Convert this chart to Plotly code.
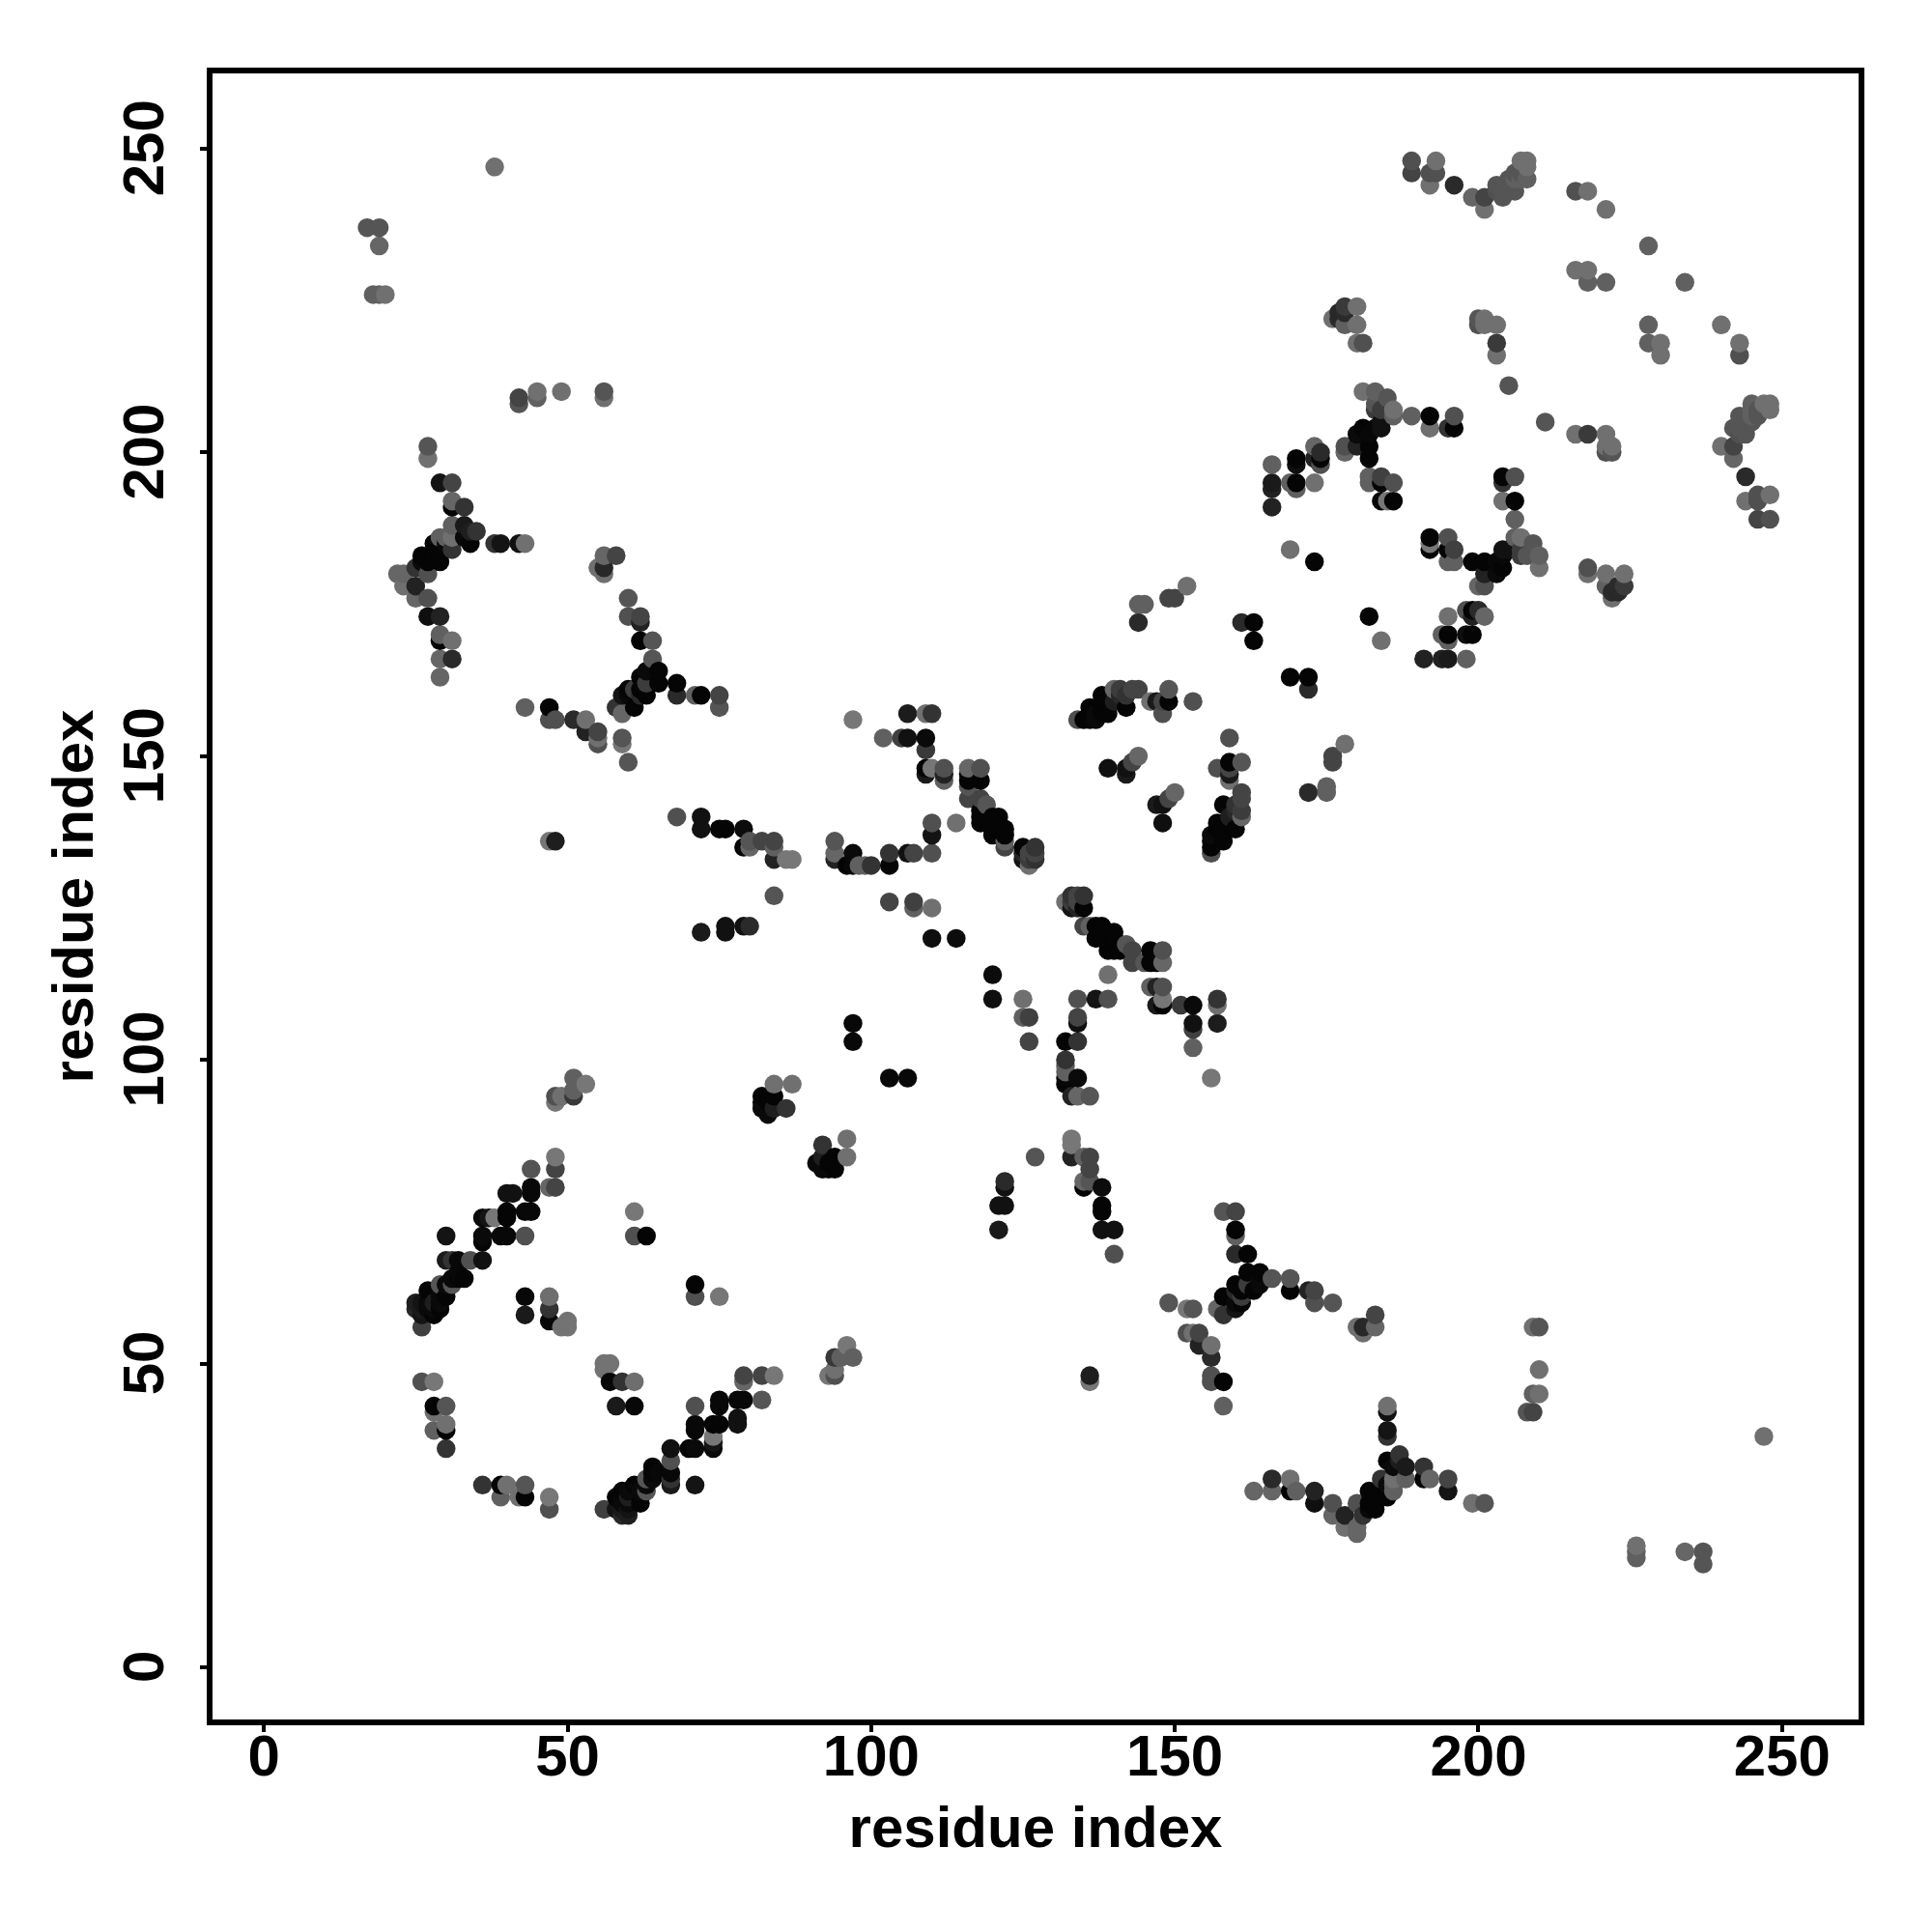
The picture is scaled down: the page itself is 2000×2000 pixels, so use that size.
import plotly.graph_objects as go

# contact pairs (residue i, residue j, level); level 0 = strongest (black), 120 = weakest (gray)
sheet_contacts = [
 (26,56,64),(28,58,5),(26,58,20),(26,59,26),(25,59,40),(25,60,30),(26,60,20),(27,59,10),(27,60,10),(28,59,10),(28,60,30),
 (29,59,5),(29,60,10),(27,62,5),(30,61,5),(29,61,10),(29,62,10),(29,63,85),(30,63,10),(31,63,85),(32,64,5),(31,64,10),(33,64,5),(32,65,8),
 (30,67,26),(31,67,51),(32,67,8),(34,67,80),(36,67,17),(36,70,5),(36,71,10),(36,74,10),(37,74,20),(38,74,119),(30,71,20),
 (39,71,8),(40,71,8),(43,71,80),(40,74,5),(40,75,5),(40,78,17),(41,78,17),(43,75,8),(44,75,8),(44,78,8),(44,79,8),(44,82,85),
 (47,79,102),(48,79,68),(48,82,68),(48,84,119),
 (43,58,26),(43,61,8),(47,57,8),(47,59,51),(47,61,110),(49,56,115),(50,56,115),(50,57,115),(61,71,80),(61,75,119),(63,71,5),
 (51,97,96),(53,96,119),(51,95,96),(51,94,56),(48,94,80),(49,94,112),(48,93,119),
 (82,92,10),(82,93,10),(82,94,5),(83,91,10),(83,93,5),(84,92,30),(84,94,5),(84,96,112),(87,96,112),(86,92,51),
 (26,47,80),(28,47,119),(28,43,5),(30,43,85),(28,42,112),(30,40,112),(28,39,96),(30,39,5),(30,36,51),
]
loop_contacts = [
 (47,136,119),(48,136,30),(43,158,96),(47,156,80),(47,158,5),(48,156,80),(51,156,42),(53,154,34),(53,156,112),
 (55,152,80),(55,153,112),(55,154,68),(59,152,119),(59,153,85),(60,149,85),
 (58,158,51),(59,157,102),(59,160,20),(60,160,10),(60,161,5),(61,158,5),(61,161,60),(62,160,40),(62,161,5),(62,163,5),
 (63,160,5),(63,162,60),(63,164,10),(64,164,10),(65,162,5),(65,164,5),(60,173,80),(60,176,85),(62,172,34),(62,173,68),
 (62,169,5),(64,169,85),(64,166,85),(68,160,42),(68,162,5),(71,160,96),(72,160,5),(75,158,85),(75,160,68),
 (68,140,80),(72,138,17),(72,140,17),(75,138,5),(76,138,5),(79,138,12),(79,135,5),(80,136,85),(80,135,102),(82,136,68),
 (84,135,96),(84,136,68),(84,133,34),(86,133,119),(87,133,119),(84,127,85),(79,122,17),(80,122,42),(76,121,17),(76,122,17),(72,121,26),
]
helix_contacts = [
 (94,133,34),(94,134,102),(94,136,85),(96,132,5),(97,132,8),(97,134,10),(98,132,96),(99,132,96),(100,132,51),(103,132,5),(103,134,51),
 (106,134,17),(107,134,68),(110,134,80),(110,137,20),(110,139,80),(114,139,112),(102,153,96),(105,153,64),(106,153,17),(109,153,10),(109,151,58),
 (97,156,119),(106,157,28),(109,157,112),(110,157,51),(109,148,5),(109,147,26),(110,148,119),(112,148,80),(112,147,34),(112,146,96),
 (116,148,102),(118,148,80),(116,146,5),(118,146,5),(116,147,5),(116,145,85),(116,143,68),(118,143,68),(119,142,85),(118,141,5),
 (118,140,5),(118,139,5),(119,140,5),(120,140,5),(121,140,5),(121,138,5),(122,138,5),(120,137,5),(120,138,5),(122,137,5),(122,136,96),(122,135,68),
 (125,134,34),(126,134,68),(127,134,68),(125,133,20),(126,133,60),(127,133,50),(125,135,5),(127,135,51),(126,132,112),
 (103,126,68),(107,126,64),(107,125,96),(110,125,112),(110,120,15),(114,120,12),(97,106,8),(97,103,8),
]
barrel_contacts = [
 (134,156,80),(135,156,5),(136,156,5),(136,158,5),(137,156,10),(137,157,10),(138,157,5),(138,158,5),(138,159,5),(138,160,5),(139,157,5),
 (139,159,5),(140,159,30),(140,161,102),(141,161,60),(141,160,40),(142,158,5),(142,160,50),(143,161,68),(144,161,68),(146,159,112),
 (147,159,26),(148,159,68),(149,159,5),(149,161,85),(148,157,80),(153,159,80),(139,148,15),(142,148,17),(142,147,26),(143,149,68),(144,150,102),
 (144,172,42),(144,175,96),(145,175,96),(149,176,68),(150,176,68),(152,178,112),(161,172,42),(163,172,5),(163,169,5),(169,184,112),(173,182,5),
 (166,198,96),(170,199,5),(170,198,15),(173,201,102),(174,200,42),(173,199,34),(174,198,80),(174,199,5),(166,195,26),(166,194,34),(166,191,34),
 (169,195,96),(170,195,5),(170,194,96),(173,195,112),
 (178,200,102),(178,201,80),(180,201,34),(182,199,5),(182,201,5),(180,203,10),(182,203,8),(181,204,5),(183,204,8),(184,204,17),(183,207,60),
 (184,207,60),(184,205,17),(181,210,112),(183,210,96),(185,209,85),(183,208,85),(186,207,112),(186,206,96),(189,206,96),(192,206,5),(192,204,112),
 (196,206,80),(195,204,51),(196,204,5),(182,195,96),(182,196,96),(184,195,5),(184,196,64),(186,195,80),(184,192,5),(185,192,119),(186,192,5),
 (176,222,112),(177,222,42),(177,223,40),(178,221,96),(178,223,42),(178,224,58),(180,224,112),(180,221,112),(180,218,112),(181,218,80),
 (189,248,80),(189,246,68),(193,248,112),(192,246,80),(193,246,80),(192,244,112),(196,244,42),(199,242,102),(201,242,68),(201,240,112),
 (203,243,80),(203,244,85),(204,242,85),(204,243,85),(205,244,85),(205,245,85),(206,243,85),(206,245,96),(206,246,85),(207,245,96),(207,246,85),
 (207,248,112),(208,245,96),(208,247,112),(208,248,112),(216,243,80),(218,243,112),(221,240,112),(228,234,96),(216,230,112),(218,230,112),
 (218,228,96),(221,228,96),(240,221,112),(243,218,112),(243,216,80),(200,221,80),(201,221,112),(201,222,112),(200,222,85),
 (203,221,112),(203,218,58),(203,216,112),(205,211,85),
]
terminal_contacts = [
 (27,199,112),(27,201,85),(29,195,20),(31,195,68),(31,191,5),(31,192,102),(33,191,51),(31,188,96),(33,188,26),(34,187,30),(35,187,51),
 (34,185,5),(33,186,10),(29,186,96),(31,186,112),(30,186,96),(31,184,51),(28,185,5),(30,185,10),(29,182,5),(29,184,5),(28,183,5),(26,183,5),(27,182,5),
 (26,182,10),(25,181,51),(27,180,80),(22,180,102),(23,180,102),(23,178,112),(25,178,34),(25,176,102),(27,176,80),(27,173,15),(29,173,34),
 (29,170,96),(29,169,5),(31,169,112),(29,166,102),(31,166,42),(29,163,102),(38,185,51),(39,185,20),(42,185,17),(43,185,112),
 (55,181,112),(56,180,112),(56,181,40),(56,183,102),(58,183,68),
 (38,247,112),(17,237,85),(19,237,85),(19,234,102),(18,226,96),(19,226,96),(20,226,112),
 (42,209,68),(42,208,85),(45,210,112),(45,209,96),(49,210,112),(56,210,85),(56,209,112),
]
tick_values = [0, 50, 100, 150, 200, 250]
axis_label = "residue index"

contacts = sheet_contacts + loop_contacts + helix_contacts + barrel_contacts + terminal_contacts
pairs = {}
for i, j, level in contacts:
    pairs[(i, j)] = level
    pairs[(j, i)] = level
ordered = sorted(pairs)
xs = [p[0] for p in ordered]
ys = [p[1] for p in ordered]
levels = [pairs[p] for p in ordered]

FONT = "Liberation Sans"
title_font = dict(family=FONT, size=60, color="#000", weight=700)
fig = go.Figure(go.Scatter(
    x=xs, y=ys, mode="markers",
    marker=dict(size=19.5, color=levels, cmin=0, cmax=120,
                colorscale=[[0, "#000000"], [1, "#787878"]], showscale=False,
                line=dict(width=0)),
))
axis = dict(
    tickvals=tick_values, ticks="outside", ticklen=7, tickwidth=4, tickcolor="#000",
    showgrid=False, zeroline=False, showline=True, mirror=True, linewidth=6, linecolor="#000",
    tickfont=dict(family=FONT, size=60, color="#000", weight=700),
)
fig.update_layout(
    width=1984, height=1984, margin=dict(l=211.8, r=68, t=67.7, b=212),
    paper_bgcolor="#fff", plot_bgcolor="#fff", showlegend=False,
    xaxis=dict(axis, range=[-8.46, 262.6], ticklabelstandoff=-27,
               title=dict(text=axis_label, standoff=22, font=title_font)),
    yaxis=dict(axis, range=[-8.6, 262.4], tickangle=-90, ticklabelstandoff=14,
               ticktext=[f"{v}\u00a0" for v in tick_values],
               title=dict(text=axis_label, standoff=1, font=title_font)),
)
fig.write_html("out.html")
